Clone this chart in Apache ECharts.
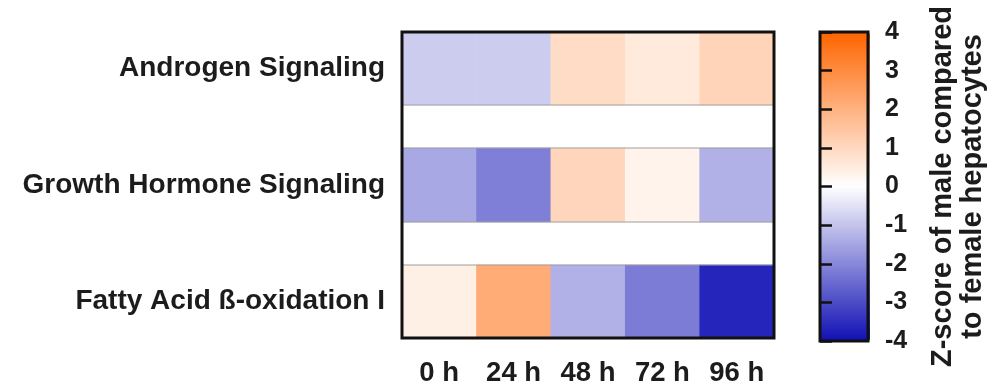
<!DOCTYPE html>
<html>
<head>
<meta charset="utf-8">
<script src="https://cdn.jsdelivr.net/npm/echarts@6/dist/echarts.min.js"></script>
<style>html,body{margin:0;padding:0;background:#fff}#chart{width:989px;height:387px}</style>
</head>
<body>
<div id="chart"></div>
<script>
// ---- data ----
const timePoints = ['0 h', '24 h', '48 h', '72 h', '96 h'];
const pathways = ['Androgen Signaling', 'Growth Hormone Signaling', 'Fatty Acid ß-oxidation I'];
const androgenSignaling = [-0.85, -0.85, 0.9, 0.55, 1.1];
const growthHormoneSignaling = [-1.45, -2.15, 1.05, 0.3, -1.3];
const fattyAcidOxidation = [0.4, 2.15, -1.3, -2.2, -3.65];
const zMin = -4, zMax = 4, zInterval = 1;
const colorbarTitle = 'Z-score of male compared\nto female hepatocytes';

const rows = [androgenSignaling, growthHormoneSignaling, fattyAcidOxidation];

// ---- layout (styles only) ----
const plotLeft = 402, plotWidth = 372;
const rowGrids = [
  { top: 32, height: 73 },
  { top: 148, height: 74 },
  { top: 265, height: 73 }
];
const labelFont = { fontFamily: 'Liberation Sans, Arial, sans-serif', fontWeight: 'bold', color: '#1c1c1c' };

const grid = [], xAxis = [], yAxis = [], series = [];
rowGrids.forEach((g, i) => {
  grid.push({ left: plotLeft, width: plotWidth, top: g.top, height: g.height,
    show: true, borderColor: '#a0a0a0', borderWidth: 1, z: 3 });
  xAxis.push({ type: 'category', gridIndex: i, data: timePoints,
    show: i === rows.length - 1,
    axisLine: { show: false }, axisTick: { show: false },
    axisLabel: Object.assign({ fontSize: 27.5, margin: 21 }, labelFont) });
  yAxis.push({ type: 'category', gridIndex: i, data: [pathways[i]],
    axisLine: { show: false }, axisTick: { show: false },
    axisLabel: Object.assign({ fontSize: 28, margin: 17 }, labelFont) });
  series.push({ type: 'heatmap', xAxisIndex: i, yAxisIndex: i,
    data: rows[i].map((v, c) => [c, 0, v]),
    itemStyle: { borderWidth: 0 }, emphasis: { disabled: true } });
});
// frame around the heatmap
grid.push({ left: plotLeft, width: plotWidth, top: 32, height: 306,
  show: true, borderColor: '#111', borderWidth: 3, z: 10 });
xAxis.push({ type: 'value', gridIndex: 3, show: false });
yAxis.push({ type: 'value', gridIndex: 3, show: false });

// colorbar axis (ticks pointing into the bar via negative offset)
const tickLen = 6;
grid.push({ left: 820, width: 50, top: 32, height: 309,
  show: true, borderColor: '#111', borderWidth: 3, z: 10 });
xAxis.push({ type: 'value', gridIndex: 4, show: false });
yAxis.push({ type: 'value', gridIndex: 4, position: 'right', offset: -tickLen,
  min: zMin, max: zMax, interval: zInterval, z: 10,
  axisLine: { show: false },
  axisTick: { show: true, inside: false, length: tickLen, lineStyle: { color: '#111', width: 2.5 } },
  splitLine: { show: false },
  axisLabel: Object.assign({ fontSize: 25, margin: 17 + tickLen, showMinLabel: true, showMaxLabel: true }, labelFont),
  name: colorbarTitle, nameLocation: 'middle', nameRotate: 90, nameGap: 60 + tickLen,
  nameTextStyle: Object.assign({ fontSize: 29, lineHeight: 30, align: 'center' }, labelFont) });
yAxis.push({ type: 'value', gridIndex: 4, position: 'left', offset: -tickLen,
  min: zMin, max: zMax, interval: zInterval, z: 10,
  axisLine: { show: false },
  axisTick: { show: true, inside: false, length: tickLen, lineStyle: { color: '#111', width: 2.5 } },
  splitLine: { show: false }, axisLabel: { show: false } });

const chart = echarts.init(document.getElementById('chart'));
chart.setOption({
  animation: false,
  backgroundColor: '#fff',
  grid, xAxis, yAxis, series,
  visualMap: {
    type: 'continuous', min: zMin, max: zMax, seriesIndex: [0, 1, 2],
    calculable: false, hoverLink: false, left: 820, top: 32, padding: 0,
    itemWidth: 50, itemHeight: 309, text: null, showLabel: false, z: 4,
    inRange: { color: ['#1010b4', '#ffffff', '#ff6400'] }
  }
});
</script>
</body>
</html>
